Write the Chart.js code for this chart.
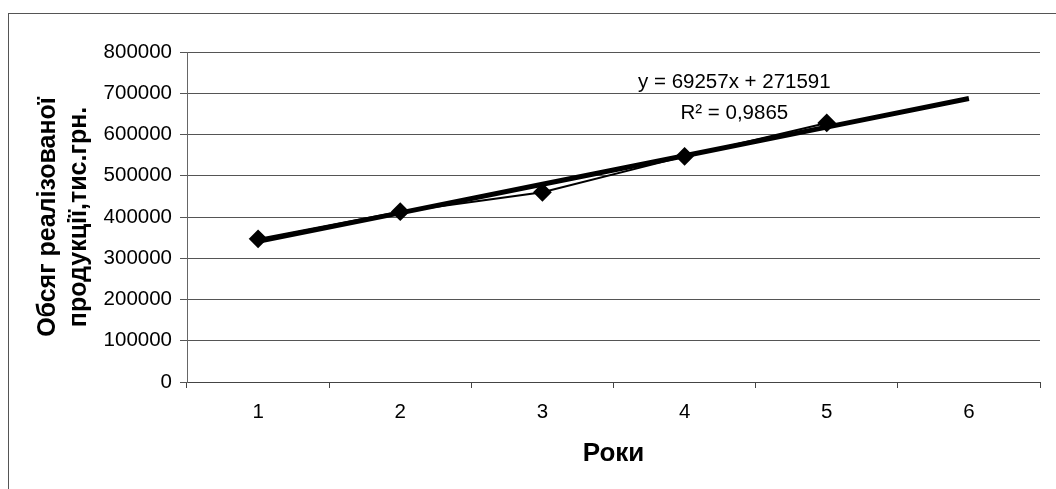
<!DOCTYPE html>
<html>
<head>
<meta charset="utf-8">
<script src="https://cdn.jsdelivr.net/npm/chart.js@4/dist/chart.umd.min.js"></script>
<style>
  html, body { margin: 0; padding: 0; background: #fff; }
  #wrap { width: 1056px; height: 489px; }
</style>
</head>
<body>
<div id="wrap"><canvas id="c" width="1056" height="489"></canvas></div>
<script>
// sales volume by year, with linear trend
const years = ['1', '2', '3', '4', '5', '6'];
const sales = [347000, 413000, 460000, 547000, 628000, null];
const trend = [340800, 410100, 479400, 548600, 617900, 687100];
const trendLabel = 'y = 69257x + 271591';
const r2Label = 'R² = 0,9865';
const yTitle = ['Обсяг реалізованої', 'продукції,тис.грн.'];
const xTitle = 'Роки';

const font = '"Liberation Sans", Arial, sans-serif';

/* outer frame (only top and left edges show) + trend equation */
const extras = {
  id: 'extras',
  beforeDraw(chart) {
    const ctx = chart.ctx;
    ctx.save();
    ctx.strokeStyle = '#555';
    ctx.lineWidth = 1;
    ctx.strokeRect(8.5, 13.5, 1200, 600);
    ctx.restore();
  },
  afterDatasetsDraw(chart) {
    const ctx = chart.ctx;
    const x = chart.scales.x.getPixelForValue(3.35);
    ctx.save();
    ctx.fillStyle = '#000';
    ctx.font = `20.5px ${font}`;
    ctx.textAlign = 'center';
    ctx.textBaseline = 'alphabetic';
    ctx.fillText(trendLabel, x, 88);
    ctx.fillText(r2Label, x, 119);
    ctx.restore();
  }
};

new Chart(document.getElementById('c'), {
  type: 'line',
  data: {
    labels: years,
    datasets: [
      {
        data: sales,
        borderColor: '#000',
        backgroundColor: '#000',
        borderWidth: 2,
        pointStyle: 'rectRot',
        pointRadius: 8,
        pointHoverRadius: 8,
        fill: false,
        tension: 0
      },
      {
        data: trend,
        borderColor: '#000',
        borderWidth: 5,
        pointRadius: 0,
        fill: false,
        tension: 0
      }
    ]
  },
  options: {
    responsive: false,
    animation: false,
    events: [],
    layout: { padding: { top: 52, right: 16, left: 0, bottom: 0 } },
    plugins: {
      legend: { display: false },
      tooltip: { enabled: false }
    },
    scales: {
      x: {
        offset: true,
        grid: { offset: true, drawOnChartArea: false, drawTicks: true, tickLength: 6, color: '#444' },
        border: { color: '#444' },
        ticks: { color: '#000', font: { family: font, size: 20.5 }, padding: 12 },
        title: { display: true, text: xTitle, color: '#000', font: { family: font, size: 26, weight: 'bold' },
                 padding: { top: 0, bottom: 20 } },
        afterFit(s) { s.height = 489 - 382; }
      },
      y: {
        min: 0,
        max: 800000,
        ticks: { stepSize: 100000, color: '#000', font: { family: font, size: 20.5 }, padding: 8,
                 callback: v => String(v) },
        grid: { color: '#555', tickLength: 7 },
        border: { color: '#666' },
        title: { display: true, text: yTitle, color: '#000',
                 font: { family: font, size: 25, weight: 'bold', lineHeight: 1.25 }, padding: { top: 32, bottom: 0 } },
        afterFit(s) { s.width = 187; }
      }
    }
  },
  plugins: [extras]
});
</script>
</body>
</html>
